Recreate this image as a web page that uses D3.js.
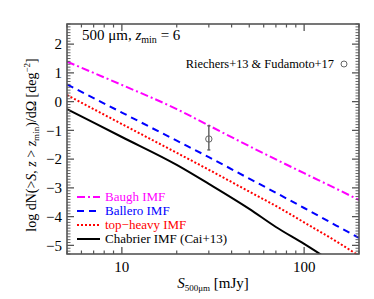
<!DOCTYPE html>
<html>
<head>
<meta charset="utf-8">
<script src="https://cdn.jsdelivr.net/npm/d3@7"></script>
<style>
  body { margin: 0; background: #fff; }
  svg { display: block; font-family: "Liberation Serif", "Times New Roman", serif; }
</style>
</head>
<body>
<svg id="chart"></svg>
<script>
// flux grid (mJy) and log counts
const fluxes = [5, 10, 20, 30, 50, 70, 100, 150, 200];
const baugh = [1.39, 0.58, -0.26, -0.83, -1.55, -2.01, -2.49, -3.03, -3.42];
const ballero = [0.60, -0.38, -1.36, -1.93, -2.68, -3.17, -3.70, -4.31, -4.74];
const topHeavy = [0.23, -0.78, -1.78, -2.37, -3.13, -3.63, -4.20, -4.86, -5.36];
const chabrierFlux = [5, 10, 20, 30, 50, 70, 100, 125];
const chabrier = [-0.26, -1.23, -2.20, -2.86, -3.73, -4.36, -4.95, -5.34];

const obsFlux = [30];
const obsVal = [-1.30];
const obsLo = [-1.68];
const obsHi = [-0.84];

const yTicks = [-5, -4, -3, -2, -1, 0, 1, 2];
const xTicks = [10, 100];

const width = 374, height = 299;
const margin = {top: 24, right: 15, bottom: 45, left: 67};
const iw = width - margin.left - margin.right;
const ih = height - margin.top - margin.bottom;

const svg = d3.select('#chart').attr('width', width).attr('height', height);

const x = d3.scaleLog().domain([5, 200]).range([0, iw]);
const y = d3.scaleLinear().domain([-5.3, 2.7]).range([ih, 0]);

const g = svg.append('g').attr('transform', `translate(${margin.left},${margin.top})`);

svg.append('defs').append('clipPath').attr('id', 'clip')
    .append('rect').attr('width', iw).attr('height', ih);

const axisColor = '#555';

// minor ticks
const xMinor = [];
[1, 10, 100].forEach(dec => { for (let k = 1; k <= 9; k++) { const v = k * dec; if (v >= 5 && v <= 200 && !xTicks.includes(v)) xMinor.push(v); } });
const yMinor = d3.range(-53, 28).map(v => v / 10).filter(v => Math.abs(v - Math.round(v)) > 1e-6);

function drawAxes() {
    const ax = g.append('g').attr('stroke', axisColor);
    // x ticks bottom & top
    ax.selectAll('.xmaj').data(xTicks).join('g').each(function (d) {
        const s = d3.select(this);
        s.append('line').attr('x1', x(d)).attr('x2', x(d)).attr('y1', ih).attr('y2', ih - 7).attr('stroke-width', 1.3);
        s.append('line').attr('x1', x(d)).attr('x2', x(d)).attr('y1', 0).attr('y2', 7).attr('stroke-width', 1.3);
    });
    ax.selectAll('.xmin').data(xMinor).join('g').each(function (d) {
        const s = d3.select(this);
        s.append('line').attr('x1', x(d)).attr('x2', x(d)).attr('y1', ih).attr('y2', ih - 3.5).attr('stroke-width', 1.2);
        s.append('line').attr('x1', x(d)).attr('x2', x(d)).attr('y1', 0).attr('y2', 3.5).attr('stroke-width', 1.2);
    });
    ax.selectAll('.ymaj').data(yTicks).join('g').each(function (d) {
        const s = d3.select(this);
        s.append('line').attr('x1', 0).attr('x2', 7).attr('y1', y(d)).attr('y2', y(d)).attr('stroke-width', 1.3);
        s.append('line').attr('x1', iw).attr('x2', iw - 7).attr('y1', y(d)).attr('y2', y(d)).attr('stroke-width', 1.3);
    });
    ax.selectAll('.ymin').data(yMinor).join('g').each(function (d) {
        const s = d3.select(this);
        s.append('line').attr('x1', 0).attr('x2', 3.5).attr('y1', y(d)).attr('y2', y(d)).attr('stroke-width', 0.9);
        s.append('line').attr('x1', iw).attr('x2', iw - 3.5).attr('y1', y(d)).attr('y2', y(d)).attr('stroke-width', 0.9);
    });
    g.append('rect').attr('width', iw).attr('height', ih)
        .attr('fill', 'none').attr('stroke', axisColor).attr('stroke-width', 1.6);

    g.selectAll('.ylab').data(yTicks).join('text')
        .attr('x', -5).attr('y', d => y(d)).attr('dy', '0.35em')
        .attr('text-anchor', 'end').attr('font-size', 15)
        .text(d => d < 0 ? '\u2212' + Math.abs(d) : d);
    g.selectAll('.xlab').data(xTicks).join('text')
        .attr('x', d => x(d)).attr('y', ih + 18)
        .attr('text-anchor', 'middle').attr('font-size', 15)
        .text(d => d);
}

const series = [
    {name: 'Baugh IMF', flux: fluxes, vals: baugh, color: '#ff00ff', dash: '8,3,2,3'},
    {name: 'Ballero IMF', flux: fluxes, vals: ballero, color: '#0000ff', dash: '7,5'},
    {name: 'top\u2212heavy IMF', flux: fluxes, vals: topHeavy, color: '#ff0000', dash: '2,2'},
    {name: 'Chabrier IMF (Cai+13)', flux: chabrierFlux, vals: chabrier, color: '#000000', dash: null}
];

const line = d3.line().x(d => x(d[0])).y(d => y(d[1])).curve(d3.curveMonotoneX);

const plot = g.append('g').attr('clip-path', 'url(#clip)');
series.forEach(s => {
    plot.append('path')
        .attr('d', line(s.flux.map((f, i) => [f, s.vals[i]])))
        .attr('fill', 'none').attr('stroke', s.color).attr('stroke-width', 2)
        .attr('stroke-dasharray', s.dash);
});

// observed point with error bar
obsFlux.forEach((f, i) => {
    plot.append('line').attr('x1', x(f)).attr('x2', x(f))
        .attr('y1', y(obsHi[i])).attr('y2', y(obsLo[i]))
        .attr('stroke', '#666').attr('stroke-width', 1.5);
    [obsHi[i], obsLo[i]].forEach(v => plot.append('line')
        .attr('x1', x(f) - 1.5).attr('x2', x(f) + 1.5).attr('y1', y(v)).attr('y2', y(v))
        .attr('stroke', '#666').attr('stroke-width', 1.5));
    plot.append('circle').attr('cx', x(f)).attr('cy', y(obsVal[i])).attr('r', 3.2)
        .attr('fill', 'none').attr('stroke', '#666').attr('stroke-width', 1);
});

drawAxes();

// legend
const leg = g.append('g').attr('transform', `translate(10, ${ih - 53})`);
series.forEach((s, i) => {
    leg.append('line').attr('x1', 0).attr('x2', 23).attr('y1', i * 14 - 4).attr('y2', i * 14 - 4)
        .attr('stroke', s.color).attr('stroke-width', 2).attr('stroke-dasharray', s.dash);
    leg.append('text').attr('x', 28).attr('y', i * 14).attr('font-size', 13)
        .attr('fill', s.color).text(s.name);
});

// annotations
const ann = g.append('text').attr('x', 15).attr('y', 16).attr('font-size', 15);
ann.append('tspan').text('500 \u03bcm, ');
ann.append('tspan').attr('font-style', 'italic').text('z');
ann.append('tspan').attr('font-size', 10).attr('dy', 3).text('min');
ann.append('tspan').attr('dy', -3).text(' = 6');

g.append('text').attr('x', 267).attr('y', 44).attr('font-size', 12.4)
    .attr('text-anchor', 'end').text('Riechers+13 & Fudamoto+17');
g.append('circle').attr('cx', 277).attr('cy', 40).attr('r', 3)
    .attr('fill', 'none').attr('stroke', '#666').attr('stroke-width', 1);

// axis titles
const xt = svg.append('text').attr('x', 213).attr('y', 288).attr('font-size', 15).attr('text-anchor', 'middle');
xt.append('tspan').attr('font-style', 'italic').text('S');
xt.append('tspan').attr('font-size', 9).attr('dy', 3).text('500\u03bcm');
xt.append('tspan').attr('dy', -3).text(' [mJy]');

const yt = svg.append('text').attr('transform', 'translate(36,145) rotate(-90)')
    .attr('font-size', 14).attr('text-anchor', 'middle');
yt.append('tspan').text('log dN(>');
yt.append('tspan').attr('font-style', 'italic').text('S');
yt.append('tspan').text(', ');
yt.append('tspan').attr('font-style', 'italic').text('z');
yt.append('tspan').text(' > ');
yt.append('tspan').attr('font-style', 'italic').text('z');
yt.append('tspan').attr('font-size', 9).attr('dy', 3).text('min');
yt.append('tspan').attr('dy', -3).text(')/d\u03a9 [deg');
yt.append('tspan').attr('font-size', 9).attr('dy', -6).text('\u22122');
yt.append('tspan').attr('dy', 6).text(']');
</script>
</body>
</html>
